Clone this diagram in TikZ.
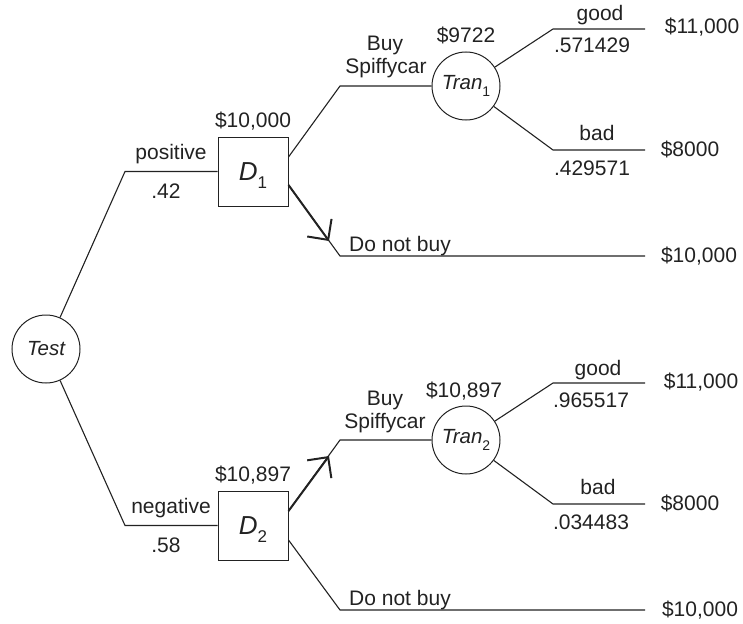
\documentclass[tikz,border=0pt]{standalone}
\usepackage{fontspec}
\setmainfont{Liberation Sans}
\usetikzlibrary{arrows.meta,calc}
\definecolor{ink}{HTML}{222222}
\newcommand\subdig[1]{\raisebox{-7pt}{\fontsize{14}{14}\selectfont #1}}
\newcommand\dsub[1]{\raisebox{-8pt}{\fontsize{17}{17}\selectfont #1}}
\begin{document}
\begin{tikzpicture}[x=1pt,y=-1pt,
  line/.style={draw=ink,line width=1.1pt},
  bold/.style={draw=ink,line width=2pt,-{Straight Barb[length=15pt,width=30pt,line width=2pt]}},
  chance/.style={circle,draw=ink,line width=1pt,minimum size=68pt,inner sep=0pt,font=\fontsize{20.5}{24}\selectfont\itshape,text=ink},
  decision/.style={rectangle,draw=ink,line width=1pt,minimum width=70pt,minimum height=69pt,inner sep=0pt},
  txt/.style={inner sep=0pt,anchor=base,font=\fontsize{21}{25}\selectfont,text=ink}]
\useasboundingbox (0,0) rectangle (743,623);

% nodes
\node[chance] (Test) at (46,349) {Test};
\node[decision,label={[yshift=-4pt,text=ink]center:{\fontsize{26}{30}\selectfont\itshape D}\dsub{1}}] (D1) at (253,171.5) {};
\node[decision,label={[yshift=-4pt,text=ink]center:{\fontsize{26}{30}\selectfont\itshape D}\dsub{2}}] (D2) at (253,525.5) {};
\node[chance] (Tran1) at (466,86) {Tran\subdig{\upshape 1}};
\node[chance] (Tran2) at (466,440) {Tran\subdig{\upshape 2}};

% coordinates
\coordinate (e1) at (125,171.5);
\coordinate (e2) at (125,525.5);
\coordinate (d1u) at ($(D1.east)+(0,-14.5)$);
\coordinate (d1d) at ($(D1.east)+(0,13.5)$);
\coordinate (d2u) at ($(D2.east)+(0,-14.5)$);
\coordinate (d2d) at ($(D2.east)+(0,14.5)$);
\coordinate (e3) at (340,86);
\coordinate (e4) at (340,256);
\coordinate (f4) at (645,256);
\coordinate (t1) at (329,241);
\coordinate (e5) at (340,440);
\coordinate (t2) at (329,456);
\coordinate (e6) at (340,610);
\coordinate (f6) at (645,610);
\coordinate (g1) at (553,29);
\coordinate (g1e) at (645,29);
\coordinate (b1) at (553,150);
\coordinate (b1e) at (645,150);
\coordinate (g2) at (553,383);
\coordinate (g2e) at (645,383);
\coordinate (b2) at (553,504);
\coordinate (b2e) at (645,504);

% connectors
\draw[line] (Test) -- (e1) -- (D1);
\draw[line] (Test) -- (e2) -- (D2);
\draw[line] (d1u) -- (e3) -- (Tran1);
\draw[line] (d1d) -- (e4) -- (f4);
\draw[bold] (d1d) -- (t1);
\draw[line] (d2u) -- (e5) -- (Tran2);
\draw[bold] (d2u) -- (t2);
\draw[line] (d2d) -- (e6) -- (f6);
\draw[line] (Tran1) -- (g1) -- (g1e);
\draw[line] (Tran1) -- (b1) -- (b1e);
\draw[line] (Tran2) -- (g2) -- (g2e);
\draw[line] (Tran2) -- (b2) -- (b2e);

% labels top
\node[txt] (v1) at (253,127) {\$10,000};
\node[txt] (lp) at (171,159) {positive};
\node[txt] (pp) at (166,198) {.42};
\node[txt] (by1) at (385,51) {Buy};
\node[txt] (sp1) at (386,74) {Spiffycar};
\node[txt] (vt1) at (466,43) {\$9722};
\node[txt] (gd1) at (600,21) {good};
\node[txt] (pg1) at (592,53) {.571429};
\node[txt] (o1) at (702,34) {\$11,000};
\node[txt] (bd1) at (597,140) {bad};
\node[txt] (pb1) at (592,175) {.429571};
\node[txt] (o2) at (690,156) {\$8000};
\node[txt] (dn1) at (400,251) {Do not buy};
\node[txt] (o3) at (699,262) {\$10,000};

% labels bottom
\node[txt] (v2) at (253,481) {\$10,897};
\node[txt] (ln) at (171,513) {negative};
\node[txt] (pn) at (166,552) {.58};
\node[txt] (by2) at (385,405) {Buy};
\node[txt] (sp2) at (385,428) {Spiffycar};
\node[txt] (vt2) at (464,397) {\$10,897};
\node[txt] (gd2) at (598,375) {good};
\node[txt] (pg2) at (591,407) {.965517};
\node[txt] (o4) at (701,388) {\$11,000};
\node[txt] (bd2) at (598,494) {bad};
\node[txt] (pb2) at (591,529) {.034483};
\node[txt] (o5) at (690,510) {\$8000};
\node[txt] (dn2) at (400,605) {Do not buy};
\node[txt] (o6) at (700,616) {\$10,000};
\end{tikzpicture}
\end{document}
